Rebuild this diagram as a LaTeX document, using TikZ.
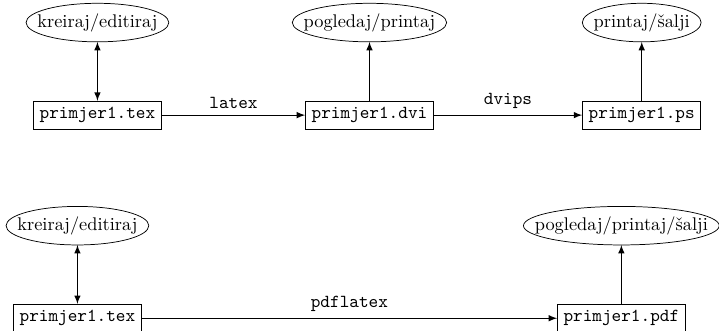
\documentclass[tikz,border=0pt]{standalone}
\usepackage{tikz}
\usetikzlibrary{positioning}
\usetikzlibrary{calc}
\usetikzlibrary{arrows}
\tikzset{
  datoteka/.style={draw, font=\ttfamily},
  akcija/.style={inner xsep=6pt, inner ysep=5.3pt},
  veza/.style={-latex, semithick},
  oznaka/.style={above, font=\ttfamily},
}

\begin{document}
\begin{tikzpicture}[node distance=1.13cm]
\useasboundingbox (0,0) rectangle (13.77,6.335);
% latex -> dvips
\node[datoteka] (tex1) at (1.866,4.13) {primjer1.tex};
\node[datoteka] (dvi) at (7.076,4.13) {primjer1.dvi};
\node[datoteka] (ps) at (12.29,4.13) {primjer1.ps};
\node[akcija, above=of tex1] (ked1) {kreiraj/editiraj};
\node[akcija, above=of dvi] (pp1) {pogledaj/printaj};
\node[akcija, above=of ps] (ps1) {printaj/šalji};
% pdflatex
\node[datoteka] (tex2) at (1.483,0.24) {primjer1.tex};
\node[datoteka] (pdf) at (11.90,0.24) {primjer1.pdf};
\node[akcija, above=of tex2] (ked2) {kreiraj/editiraj};
\node[akcija, above=of pdf] (pps2) {pogledaj/printaj/šalji};
\foreach \e in {ked1,pp1,ps1,ked2,pps2}
  \draw let \p1=(\e.north east), \p2=(\e.center) in
    (\p2) ellipse [x radius={\x1-\x2}, y radius={\y1-\y2}];
\draw[veza, latex-latex] (tex1) -- (ked1);
\draw[veza] (dvi) -- (pp1);
\draw[veza] (ps) -- (ps1);
\draw[veza] (tex1) -- node[oznaka] {latex} (dvi);
\draw[veza] (dvi) -- node[oznaka] {dvips} (ps);
\draw[veza, latex-latex] (tex2) -- (ked2);
\draw[veza] (pdf) -- (pps2);
\draw[veza] (tex2) -- node[oznaka] {pdflatex} (pdf);
\end{tikzpicture}
\end{document}
